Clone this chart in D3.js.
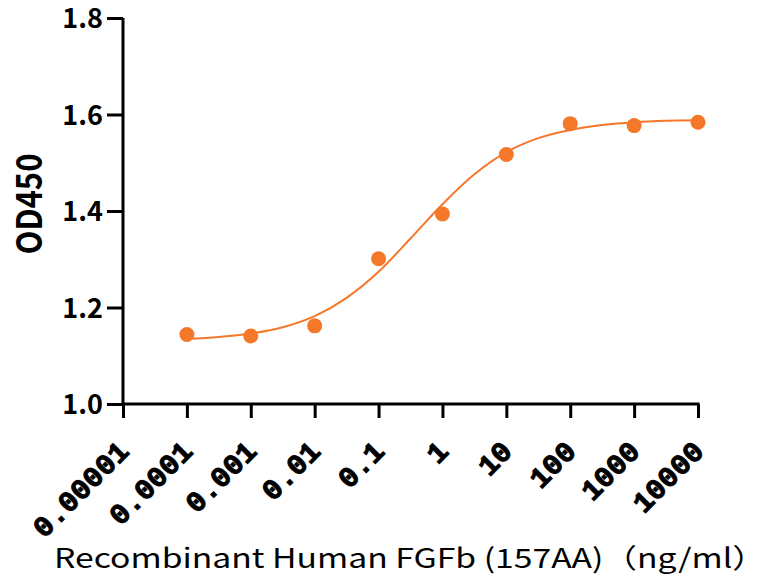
<!DOCTYPE html>
<html>
<head>
<meta charset="utf-8">
<script src="https://cdn.jsdelivr.net/npm/d3@7"></script>
<style>
  html, body { margin: 0; padding: 0; background: #ffffff; }
  svg { display: block; }
</style>
</head>
<body>
<svg id="chart" width="758" height="579"></svg>
<script>
// ---- Data ----
const concentrations = [0.0001, 0.001, 0.01, 0.1, 1, 10, 100, 1000, 10000];
const od450 = [1.144, 1.141, 1.162, 1.301, 1.394, 1.517, 1.581, 1.577, 1.584];
// fitted curve (log10 concentration, OD450)
const curveLogX = [-4, -3.5, -3, -2.5, -2, -1.5, -1, -0.5, 0, 0.5, 1, 1.5, 2, 2.5, 3, 3.5, 4];
const curveY = [1.135, 1.139, 1.146, 1.159, 1.182, 1.220, 1.274, 1.343, 1.414, 1.476, 1.522, 1.551, 1.568, 1.578, 1.584, 1.587, 1.588];
const xTickValues = [0.00001, 0.0001, 0.001, 0.01, 0.1, 1, 10, 100, 1000, 10000];
const xTickLabels = ["0.00001", "0.0001", "0.001", "0.01", "0.1", "1", "10", "100", "1000", "10000"];
const yTickValues = [1.0, 1.2, 1.4, 1.6, 1.8];
const yTickLabels = ["1.0", "1.2", "1.4", "1.6", "1.8"];
const xTitle = "Recombinant Human FGFb (157AA)（ng/ml）";
const yTitle = "OD450";

const color = "#F5782A";
const svg = d3.select("#chart");

const x = d3.scaleLog().domain([0.00001, 10000]).range([123, 698]);
const y = d3.scaleLinear().domain([1.0, 1.8]).range([404, 18]);

// Y axis
const yAxis = svg.append("g")
  .attr("transform", "translate(123,0)")
  .call(d3.axisLeft(y).tickValues(yTickValues)
    .tickFormat((d, i) => yTickLabels[i]).tickSize(16).tickPadding(4));
yAxis.select(".domain").attr("stroke", "#000").attr("stroke-width", 3)
  .attr("d", `M0,${y(1.8)}V${y(1.0)}`);
yAxis.selectAll(".tick line").attr("stroke", "#000").attr("stroke-width", 3);
yAxis.selectAll(".tick text")
  .attr("font-family", "'Noto Sans CJK SC', 'Noto Sans', sans-serif")
  .attr("font-weight", "bold").attr("font-size", 27).attr("fill", "#000")
  .attr("dy", "0.36em");

// X axis
const xAxis = svg.append("g")
  .attr("transform", "translate(0,404)")
  .call(d3.axisBottom(x).tickValues(xTickValues)
    .tickFormat((d, i) => xTickLabels[i]).tickSize(14).tickPadding(0));
xAxis.select(".domain").attr("stroke", "#000").attr("stroke-width", 3)
  .attr("d", `M${x(0.00001) - 1.5},0H${x(10000) + 1.5}`);
xAxis.selectAll(".tick line").attr("stroke", "#000").attr("stroke-width", 3);
xAxis.selectAll(".tick text")
  .attr("font-family", "'Liberation Mono', 'DejaVu Sans Mono', monospace")
  .attr("font-weight", "bold").attr("font-size", 29).attr("fill", "#000")
  .attr("stroke", "#000").attr("stroke-width", 1)
  .attr("text-anchor", "end")
  .attr("y", 0).attr("dy", 0)
  .attr("transform", "translate(7,49) rotate(-45)");

// Curve
const line = d3.line()
  .x(d => x(Math.pow(10, d)))
  .y((d, i) => y(curveY[i]))
  .curve(d3.curveMonotoneX);
svg.append("path")
  .datum(curveLogX)
  .attr("d", line)
  .attr("fill", "none")
  .attr("stroke", color)
  .attr("stroke-width", 2);

// Points
svg.append("g").selectAll("circle")
  .data(concentrations)
  .join("circle")
  .attr("cx", d => x(d))
  .attr("cy", (d, i) => y(od450[i]))
  .attr("r", 7.5)
  .attr("fill", color);

// Titles
svg.append("text")
  .attr("x", 54).attr("y", 568)
  .attr("text-anchor", "start")
  .attr("textLength", 712)
  .attr("lengthAdjust", "spacingAndGlyphs")
  .attr("font-family", "'Noto Sans CJK SC', 'Noto Sans', sans-serif")
  .attr("font-size", 27).attr("fill", "#000")
  .text(xTitle);

svg.append("text")
  .attr("transform", "translate(42,204) scale(1.15,1) rotate(-90)")
  .attr("text-anchor", "middle")
  .attr("font-family", "'Noto Sans CJK SC', 'Noto Sans', sans-serif")
  .attr("font-weight", "bold")
  .attr("font-size", 31).attr("fill", "#000")
  .text(yTitle);
</script>
</body>
</html>
